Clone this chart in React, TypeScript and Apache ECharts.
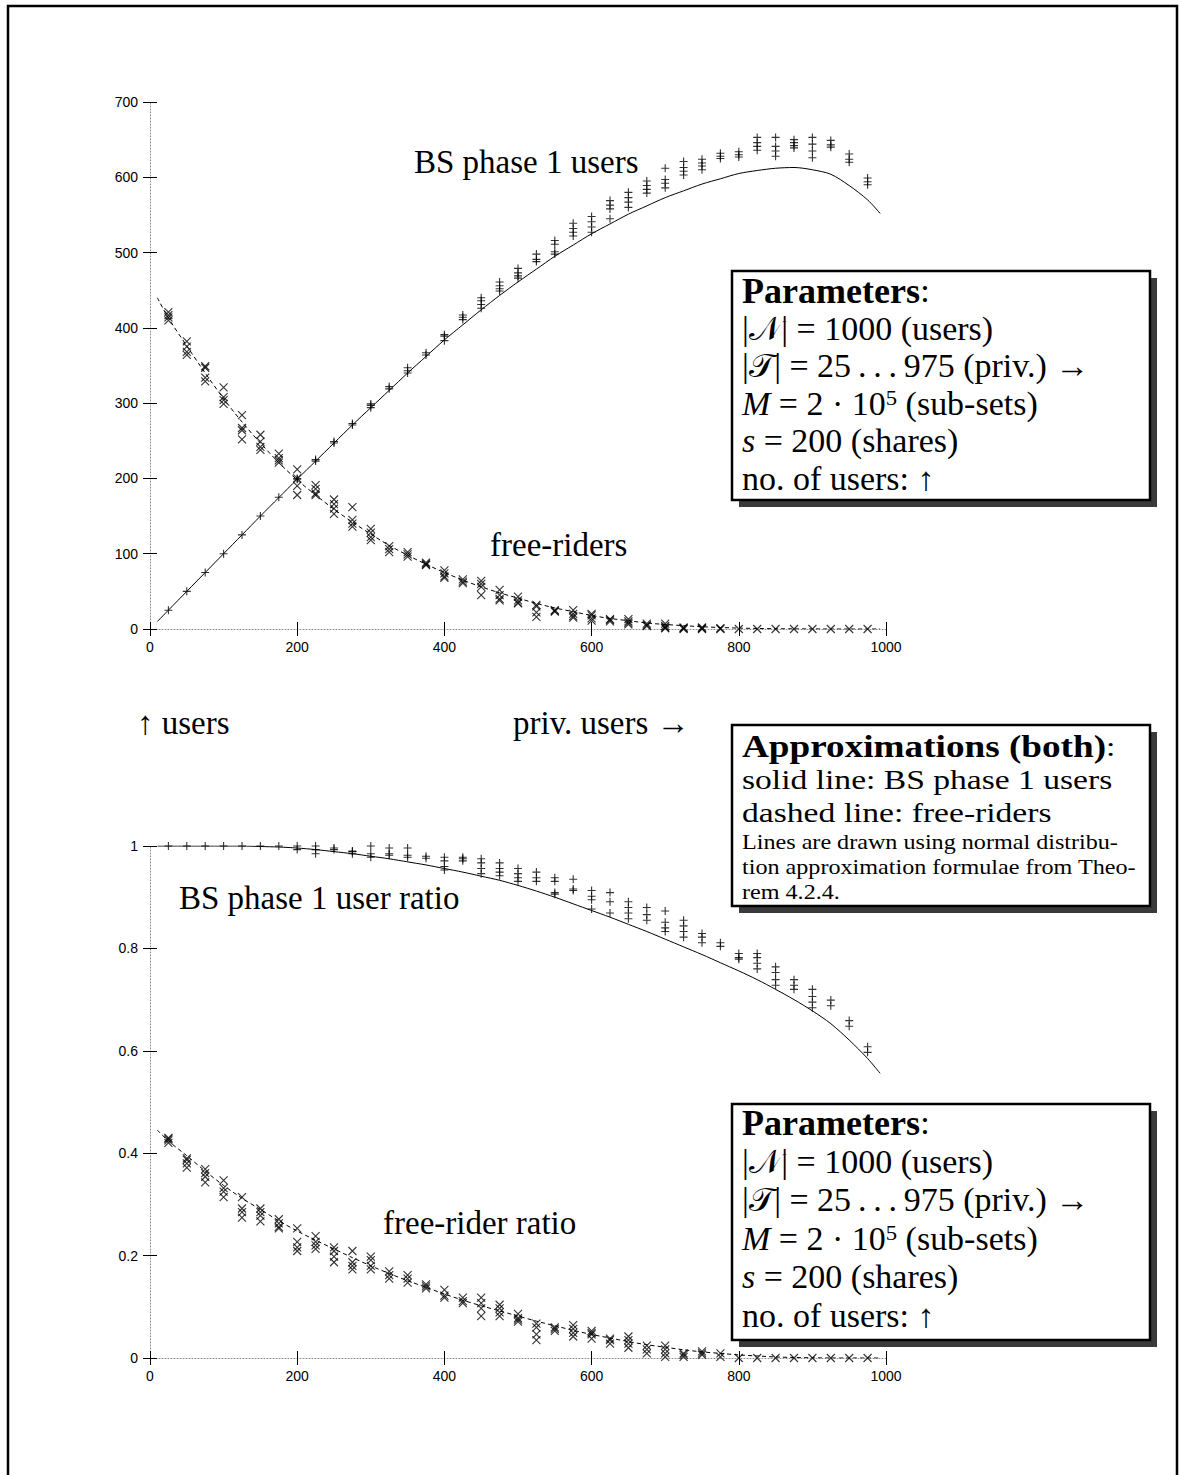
import { useEffect, useRef } from "react";
import * as echarts from "echarts";

// number of privileged users |T| for each experiment group
const privUsers = [
  25, 50, 75, 100, 125, 150, 175, 200, 225, 250, 275, 300, 325, 350, 375, 400, 425, 450, 475, 500,
  525, 550, 575, 600, 625, 650, 675, 700, 725, 750, 775, 800, 825, 850, 875, 900, 925, 950, 975,
];

// BS phase 1 users, several runs per group
const phase1Users: number[][] = [
  [25], [50], [75], [100], [125], [150], [175], [199, 200], [223, 225], [247, 249],
  [271, 273], [294, 297, 299], [319, 322], [340, 343, 347], [364, 367], [383, 389, 391],
  [411, 414, 417], [426, 431, 436, 440], [449, 452, 456, 461], [466, 469, 473, 479],
  [488, 491, 498], [498, 501, 511, 516], [522, 527, 532, 539], [527, 534, 541, 548],
  [545, 558, 563, 569], [560, 567, 573, 580], [579, 584, 589, 595], [586, 592, 597, 612],
  [603, 608, 613, 621], [610, 615, 619, 624], [625, 628, 632], [627, 630, 634],
  [636, 641, 646, 653], [628, 635, 641, 653], [639, 642, 646, 650], [626, 635, 644, 653],
  [640, 643, 649], [620, 624, 631], [590, 594, 599],
];

// free-riders, several runs per group
const freeRiders: number[][] = [
  [421, 417, 414, 410], [382, 375, 368, 364], [349, 347, 334, 329], [321, 308, 304, 299],
  [284, 267, 264, 252], [258, 249, 242, 238], [233, 227, 224, 221], [212, 200, 190, 178],
  [191, 186, 180, 178], [172, 166, 160, 153], [162, 145, 140, 136], [133, 128, 122, 118],
  [110, 106, 102], [102, 99, 96], [88, 86, 85], [78, 74, 70, 68], [66, 63, 61],
  [64, 60, 56, 45], [52, 45, 40, 38], [43, 38, 35, 34], [32, 30, 22, 16], [25, 24, 23],
  [25, 20, 17, 15], [20, 18, 14, 11], [13, 12, 10], [13, 10, 8, 6], [7, 5, 4], [7, 4, 2, 1],
  [2, 1, 0], [2, 1, 0], [1, 0], [0], [0], [0], [0], [0], [0], [0], [0],
];

// BS phase 1 user ratio, several runs per group
const phase1Ratio: number[][] = [
  [1], [1], [1], [1], [1], [1], [1], [1, 0.993], [1, 0.993, 0.985], [0.996, 0.993],
  [0.99, 0.989, 0.985], [1, 0.985, 0.978], [0.996, 0.985, 0.982], [0.996, 0.982, 0.978],
  [0.98, 0.976], [0.978, 0.971, 0.96, 0.953], [0.978, 0.975, 0.971], [0.975, 0.967, 0.956, 0.946],
  [0.967, 0.956, 0.949, 0.942], [0.956, 0.946, 0.938, 0.931], [0.949, 0.938, 0.931],
  [0.938, 0.931, 0.909, 0.906], [0.935, 0.916, 0.913], [0.913, 0.902, 0.895, 0.877],
  [0.909, 0.891, 0.869], [0.891, 0.88, 0.869, 0.858], [0.88, 0.866, 0.855],
  [0.873, 0.851, 0.84, 0.833], [0.855, 0.844, 0.833, 0.822], [0.829, 0.822, 0.811],
  [0.811, 0.804], [0.79, 0.782, 0.779], [0.79, 0.782, 0.771, 0.76], [0.764, 0.753, 0.739, 0.728],
  [0.739, 0.728, 0.72], [0.72, 0.706, 0.695, 0.684], [0.699, 0.688], [0.659, 0.648], [0.608, 0.597],
];

// free-rider ratio, several runs per group
const freeRiderRatio: number[][] = [
  [0.43, 0.428, 0.425, 0.42], [0.39, 0.387, 0.38, 0.372], [0.369, 0.361, 0.354, 0.343],
  [0.347, 0.332, 0.325, 0.314], [0.314, 0.292, 0.285, 0.274], [0.292, 0.285, 0.278, 0.267],
  [0.271, 0.263, 0.256, 0.253], [0.253, 0.227, 0.216, 0.209], [0.238, 0.227, 0.22, 0.213],
  [0.216, 0.209, 0.198, 0.187], [0.209, 0.187, 0.18, 0.173], [0.198, 0.191, 0.18, 0.173],
  [0.169, 0.162, 0.155], [0.162, 0.155, 0.147], [0.144, 0.14, 0.136], [0.133, 0.122, 0.118],
  [0.118, 0.111, 0.107], [0.118, 0.107, 0.097, 0.082], [0.104, 0.097, 0.089, 0.082],
  [0.086, 0.078, 0.075, 0.071], [0.067, 0.06, 0.046, 0.035], [0.06, 0.057, 0.053],
  [0.064, 0.057, 0.049, 0.042], [0.053, 0.049, 0.046, 0.038], [0.038, 0.035, 0.028],
  [0.042, 0.035, 0.028, 0.02], [0.024, 0.017, 0.009], [0.024, 0.017, 0.009, 0.002],
  [0.009, 0.006, 0.002], [0.013, 0.009, 0.006], [0.009, 0.002], [0], [0], [0], [0], [0], [0], [0], [0],
];

// normal-distribution approximations, sampled along |T|
const curveX = [
  10, 25, 50, 75, 100, 125, 150, 175, 200, 225, 250, 275, 300, 325, 350, 375, 400, 425, 450, 475, 500,
  525, 550, 575, 600, 625, 650, 675, 700, 725, 750, 775, 800, 825, 850, 875, 900, 925, 950, 975, 992,
];
const usersCurve = [
  10, 25, 50, 75, 100, 125, 150, 174.5, 199, 223, 247, 271, 294, 317, 340, 362, 384, 404, 424, 443, 461,
  478, 495, 510, 525, 538, 551, 562, 573, 582, 591, 598, 605, 609, 612, 613, 610, 604, 589, 570, 552,
];
const freeRidersCurve = [
  440, 413, 376, 340, 306, 275, 247, 221, 198, 178, 159, 142, 126, 111, 98, 86, 75, 65, 56, 48, 41,
  34, 28, 23, 18, 14, 11, 8, 6, 4.5, 3, 2, 1.2, 0.7, 0.4, 0.2, 0.1, 0, 0, 0, 0,
];
const ratioCurve = [
  1, 1, 1, 1, 1, 1, 0.999, 0.998, 0.996, 0.993, 0.989, 0.985, 0.98, 0.975, 0.969, 0.963, 0.956, 0.949,
  0.941, 0.933, 0.923, 0.912, 0.9, 0.887, 0.874, 0.861, 0.847, 0.833, 0.818, 0.803, 0.788, 0.772, 0.756,
  0.739, 0.72, 0.7, 0.678, 0.653, 0.621, 0.585, 0.556,
];
const freeRatioCurve = [
  0.445, 0.424, 0.395, 0.365, 0.337, 0.312, 0.29, 0.268, 0.248, 0.23, 0.213, 0.196, 0.18, 0.165, 0.151,
  0.138, 0.125, 0.113, 0.102, 0.092, 0.082, 0.072, 0.063, 0.054, 0.046, 0.039, 0.032, 0.026, 0.021, 0.016,
  0.012, 0.009, 0.006, 0.004, 0.002, 0.001, 0.0005, 0, 0, 0, 0,
];

const xTicks = { min: 0, max: 1000, interval: 200 };
const usersTicks = { min: 0, max: 700, interval: 100 };
const ratioTicks = { min: 0, max: 1, interval: 0.2 };

const SERIF = '"Liberation Serif", "DejaVu Serif", serif';
const SANS = '"Liberation Sans", Arial, sans-serif';

function samplePoints(xs: number[], runs: number[][]) {
  const pts: number[][] = [];
  xs.forEach((x, i) => runs[i].forEach((v) => pts.push([x, v])));
  return pts;
}

function curvePoints(xs: number[], ys: number[]) {
  return xs.map((x, i) => [x, ys[i]]);
}

const tick = { show: true, inside: true, length: 7, lineStyle: { color: "#000", width: 1 } };
const dottedLine = { show: true, onZero: false, lineStyle: { color: "#8c8c8c", width: 1, type: [1, 2] } };
const labelFont = { fontFamily: SANS, fontSize: 14, color: "#000" };

function xAxesFor(grid: number) {
  return [
    {
      type: "value", gridIndex: grid, position: "bottom", ...xTicks,
      axisLine: dottedLine, axisTick: tick, splitLine: { show: false },
      axisLabel: { ...labelFont, margin: 11, formatter: (v: number) => String(v) },
    },
    {
      type: "value", gridIndex: grid, position: "top", ...xTicks,
      axisLine: { show: false }, axisTick: tick, splitLine: { show: false }, axisLabel: { show: false },
    },
  ];
}

function yAxesFor(grid: number, ticks: any, fmt?: (v: number) => string) {
  return [
    {
      type: "value", gridIndex: grid, position: "left", ...ticks,
      axisLine: dottedLine, axisTick: tick, splitLine: { show: false },
      axisLabel: { ...labelFont, margin: 12, formatter: fmt },
    },
    {
      type: "value", gridIndex: grid, position: "right", ...ticks,
      axisLine: { show: false }, axisTick: tick, splitLine: { show: false }, axisLabel: { show: false },
    },
  ];
}

const PLUS = "path://M5,0L5,10M0,5L10,5";
const CROSS = "path://M0,0L10,10M10,0L0,10";
const markStyle = { color: "transparent", borderColor: "#000", borderWidth: 1.1 };

function markers(name: string, axis: number, symbol: string, data: number[][]) {
  return {
    name, type: "scatter", xAxisIndex: axis, yAxisIndex: axis, symbol, symbolSize: 8,
    itemStyle: markStyle, data, z: 3,
  };
}

function approxLine(name: string, axis: number, dashed: boolean, data: number[][]) {
  return {
    name, type: "line", xAxisIndex: axis, yAxisIndex: axis, data, showSymbol: false,
    smooth: 0.3,
    lineStyle: { color: "#000", width: 1, type: dashed ? [4, 3] : "solid" }, z: 2,
  };
}

function richFor(size: number, boldSize: number) {
  return {
    i: { fontFamily: SERIF, fontSize: size, fontStyle: "italic", color: "#000" },
    b: { fontFamily: SERIF, fontSize: boldSize, fontWeight: "bold", color: "#000" },
    sup: { fontFamily: SERIF, fontSize: Math.round(size * 0.66), color: "#000", verticalAlign: "top" },
  };
}

function line(x: number, y: number, text: string, size = 33, scaleX = 1, boldSize = size + 2) {
  return {
    type: "text", x, y, z: 120, scaleX,
    style: {
      text, font: `${size}px ${SERIF}`, fill: "#000", verticalAlign: "middle",
      rich: richFor(size, boldSize),
    },
  };
}

function box(x: number, y: number, w: number, h: number) {
  return [
    { type: "rect", z: 110, shape: { x: x + 7, y: y + 7, width: w, height: h }, style: { fill: "#3a3a3a" } },
    { type: "rect", z: 111, shape: { x, y, width: w, height: h }, style: { fill: "#fff", stroke: "#000", lineWidth: 2.5 } },
  ];
}

function parameterLines(top: number, pitch: number) {
  const rows = [
    "{b|Parameters}:",
    "|𝒩| = 1000 (users)",
    "|𝒯| = 25\u2009.\u2009.\u2009.\u2009975 (priv.) →",
    "{i|M} = 2 · 10{sup|5} (sub-sets)",
    "{i|s} = 200 (shares)",
    "no. of users: ↑",
  ];
  return rows.map((t, k) => line(742, top + k * pitch, t, 33, 1.03));
}

export default function App() {
  const ref = useRef<HTMLDivElement>(null);

  useEffect(() => {
    if (!ref.current) return;
    const chart = echarts.init(ref.current, undefined, { renderer: "svg" });
    const ratioFmt = (v: number) => (v === 0 || v === 1 ? String(v) : v.toFixed(1));

    chart.setOption({
      animation: false,
      backgroundColor: "#fff",
      grid: [
        { left: 150, top: 102, width: 736, height: 527 },
        { left: 150, top: 846, width: 736, height: 512 },
      ],
      xAxis: [...xAxesFor(0), ...xAxesFor(1)],
      yAxis: [...yAxesFor(0, usersTicks), ...yAxesFor(1, ratioTicks, ratioFmt)],
      series: [
        markers("BS phase 1 users", 0, PLUS, samplePoints(privUsers, phase1Users)),
        markers("free-riders", 0, CROSS, samplePoints(privUsers, freeRiders)),
        approxLine("BS phase 1 users approx.", 0, false, curvePoints(curveX, usersCurve)),
        approxLine("free-riders approx.", 0, true, curvePoints(curveX, freeRidersCurve)),
        markers("BS phase 1 user ratio", 2, PLUS, samplePoints(privUsers, phase1Ratio)),
        markers("free-rider ratio", 2, CROSS, samplePoints(privUsers, freeRiderRatio)),
        approxLine("BS phase 1 user ratio approx.", 2, false, curvePoints(curveX, ratioCurve)),
        approxLine("free-rider ratio approx.", 2, true, curvePoints(curveX, freeRatioCurve)),
      ],
      graphic: [
        { type: "rect", z: 130, shape: { x: 8, y: 6, width: 1169, height: 1500 }, style: { fill: "none", stroke: "#000", lineWidth: 2.5 } },
        line(414, 162, "BS phase 1 users"),
        line(490, 545, "free-riders"),
        line(137, 723, "↑ users"),
        line(513, 723, "priv. users →"),
        line(179, 898, "BS phase 1 user ratio"),
        line(383, 1223, "free-rider ratio"),
        ...box(732, 271, 418, 229),
        ...parameterLines(291, 37.5),
        ...box(732, 725, 418, 181),
        line(742, 746, "{b|Approximations (both)}:", 28, 1.2, 31),
        line(742, 779, "solid line: BS phase 1 users", 28, 1.2),
        line(742, 812, "dashed line: free-riders", 28, 1.2),
        line(742, 842, "Lines are drawn using normal distribu-", 21, 1.15),
        line(742, 867, "tion approximation formulae from Theo-", 21, 1.15),
        line(742, 892, "rem 4.2.4.", 21, 1.15),
        ...box(732, 1104, 418, 236),
        ...parameterLines(1123, 38.5),
      ],
    });
    return () => chart.dispose();
  }, []);

  return (
    <div
      ref={ref}
      style={{ position: "absolute", left: 0, top: 0, width: 1179, height: 1475 }}
    />
  );
}
